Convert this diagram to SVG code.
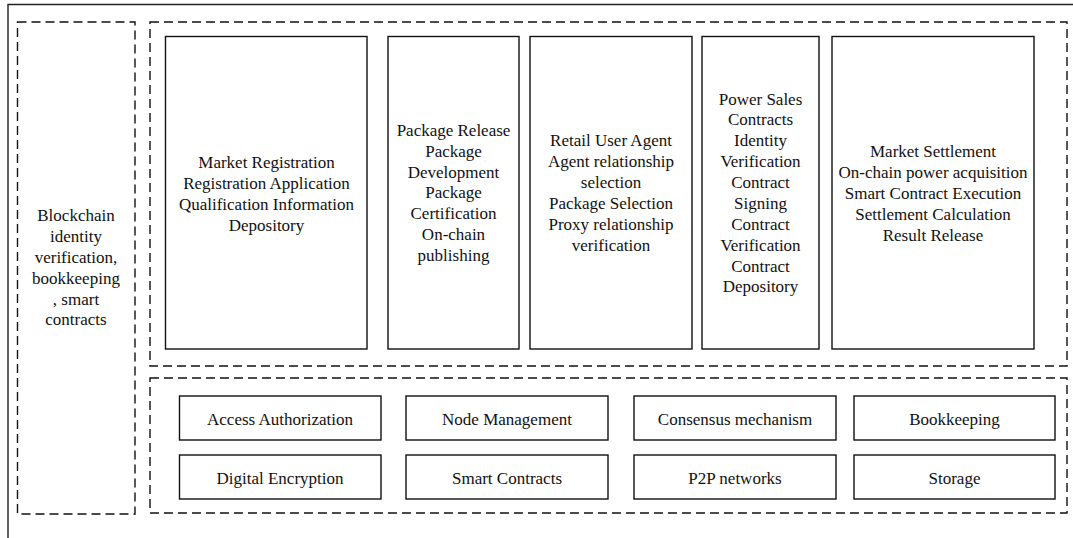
<svg xmlns="http://www.w3.org/2000/svg" width="1073" height="538" viewBox="0 0 1073 538">
<style>
.frame{fill:none;stroke:#222;stroke-width:1.4}
.dash{fill:none;stroke:#111;stroke-width:1.4;stroke-dasharray:9 5}
.box{fill:#fff;stroke:#111;stroke-width:1.4}
text{font-family:"Liberation Serif","Times New Roman",serif;font-size:17px;fill:#111;text-anchor:middle}
</style>
<rect width="1073" height="538" fill="#fff"/>
<g id="frame">
<path class="frame" d="M8,540 V4.5 H1075"/>
</g>
<g id="left-layer">
<rect class="dash" x="17.5" y="22" width="117.5" height="492"/>
<text x="76" y="221">Blockchain</text>
<text x="76" y="241.5">identity</text>
<text x="76" y="262.5">verification,</text>
<text x="76" y="283.5">bookkeeping</text>
<text x="76" y="304.5">, smart</text>
<text x="76" y="325">contracts</text>
</g>
<g id="application-layer">
<rect class="dash" x="150" y="22" width="917" height="344"/>
</g>
<g id="market-registration">
<rect class="box" x="165.5" y="36.5" width="201.5" height="312.5"/>
<text x="266.5" y="167.5">Market Registration</text>
<text x="266.5" y="188.5">Registration Application</text>
<text x="266.5" y="209.5">Qualification Information</text>
<text x="266.5" y="230.5">Depository</text>
</g>
<g id="package-release">
<rect class="box" x="388" y="36.5" width="131" height="312.5"/>
<text x="453.5" y="135.5">Package Release</text>
<text x="453.5" y="156.5">Package</text>
<text x="453.5" y="177.5">Development</text>
<text x="453.5" y="198">Package</text>
<text x="453.5" y="219">Certification</text>
<text x="453.5" y="240">On-chain</text>
<text x="453.5" y="261">publishing</text>
</g>
<g id="retail-user-agent">
<rect class="box" x="530" y="36.5" width="162" height="312.5"/>
<text x="611" y="145.5">Retail User Agent</text>
<text x="611" y="166.5">Agent relationship</text>
<text x="611" y="187.5">selection</text>
<text x="611" y="208.5">Package Selection</text>
<text x="611" y="229.5">Proxy relationship</text>
<text x="611" y="250.5">verification</text>
</g>
<g id="power-sales-contracts">
<rect class="box" x="702" y="36.5" width="117" height="312.5"/>
<text x="760.5" y="104.5">Power Sales</text>
<text x="760.5" y="125">Contracts</text>
<text x="760.5" y="146">Identity</text>
<text x="760.5" y="167">Verification</text>
<text x="760.5" y="188">Contract</text>
<text x="760.5" y="209">Signing</text>
<text x="760.5" y="229.5">Contract</text>
<text x="760.5" y="250.5">Verification</text>
<text x="760.5" y="271.5">Contract</text>
<text x="760.5" y="292">Depository</text>
</g>
<g id="market-settlement">
<rect class="box" x="832" y="36.5" width="202" height="312.5"/>
<text x="933" y="157">Market Settlement</text>
<text x="933" y="178">On-chain power acquisition</text>
<text x="933" y="198.5">Smart Contract Execution</text>
<text x="933" y="219.5">Settlement Calculation</text>
<text x="933" y="240.5">Result Release</text>
</g>
<g id="infrastructure-layer">
<rect class="dash" x="150" y="378" width="917" height="135"/>
</g>
<g id="access-authorization"><rect class="box" x="179.5" y="396" width="201.5" height="44"/><text x="280" y="424.5">Access Authorization</text></g>
<g id="node-management"><rect class="box" x="406" y="396" width="202" height="44"/><text x="507" y="424.5">Node Management</text></g>
<g id="consensus-mechanism"><rect class="box" x="634" y="396" width="202" height="44"/><text x="735" y="424.5">Consensus mechanism</text></g>
<g id="bookkeeping"><rect class="box" x="854" y="396" width="201" height="44"/><text x="954.5" y="424.5">Bookkeeping</text></g>
<g id="digital-encryption"><rect class="box" x="179.5" y="455" width="201.5" height="44"/><text x="280" y="483.5">Digital Encryption</text></g>
<g id="smart-contracts"><rect class="box" x="406" y="455" width="202" height="44"/><text x="507" y="483.5">Smart Contracts</text></g>
<g id="p2p-networks"><rect class="box" x="634" y="455" width="202" height="44"/><text x="735" y="483.5">P2P networks</text></g>
<g id="storage"><rect class="box" x="854" y="455" width="201" height="44"/><text x="954.5" y="483.5">Storage</text></g>
<g id="connectors"></g>
</svg>
